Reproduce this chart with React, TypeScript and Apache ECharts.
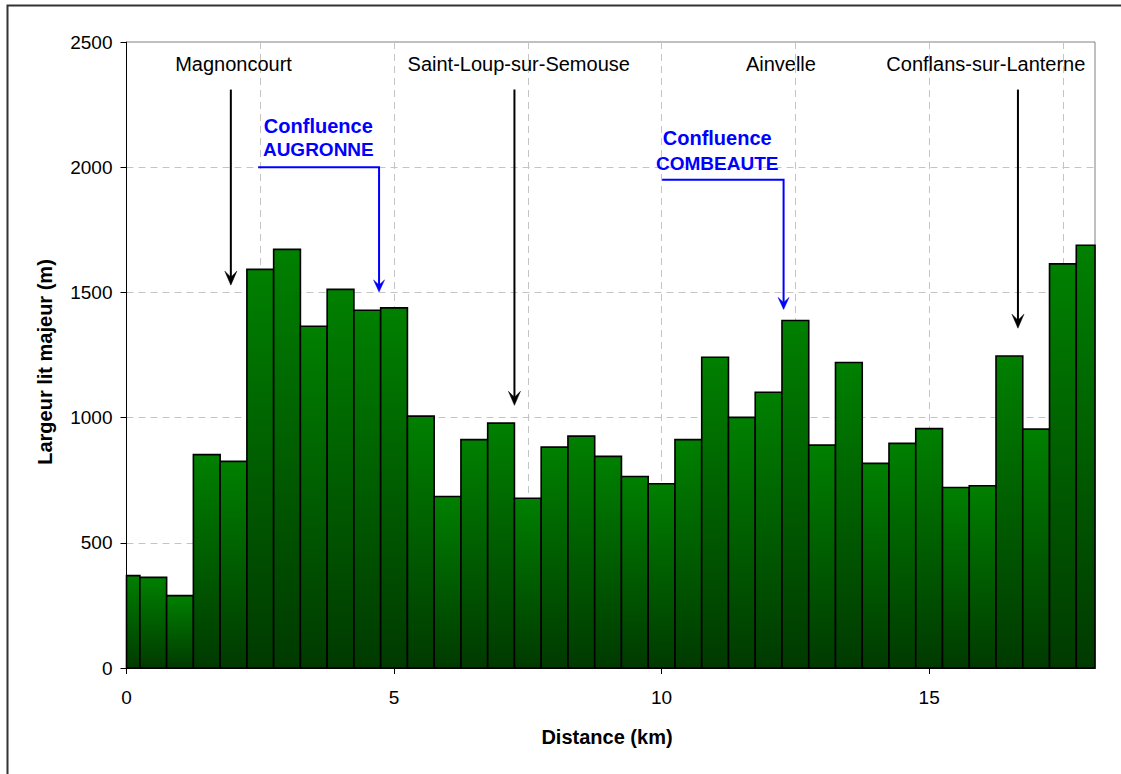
import React, { useEffect, useRef } from "react";
import * as echarts from "echarts";

// ---- data ----
const distancesKm = [
  0, 0.5, 1, 1.5, 2, 2.5, 3, 3.5, 4, 4.5, 5, 5.5, 6, 6.5, 7, 7.5, 8, 8.5, 9,
  9.5, 10, 10.5, 11, 11.5, 12, 12.5, 13, 13.5, 14, 14.5, 15, 15.5, 16, 16.5,
  17, 17.5, 18,
];
const largeurM = [
  369, 362, 289, 852, 825, 1592, 1672, 1365, 1512, 1429, 1438, 1006, 685, 912,
  978, 678, 882, 926, 845, 765, 736, 912, 1241, 1001, 1101, 1388, 890, 1220,
  817, 897, 956, 721, 728, 1246, 954, 1614, 1688,
];
const xTickValues = [0, 5, 10, 15];
const xMaxKm = 18.1;
const yMaxM = 2500;

// town annotations
const townNames = ["Magnoncourt", "Saint-Loup-sur-Semouse", "Ainvelle", "Conflans-sur-Lanterne"];
const townNameKm = [2.0, 7.33, 12.23, 16.06];
const townNameM = 2413;
const townArrowKm = [1.95, 7.25, 16.66];
const townArrowTopM = 2310;
const townArrowTipM = [1529, 1049, 1357];

// confluence annotations
const confluenceNames = ["AUGRONNE", "COMBEAUTE"];
const confluenceLabelKm = [3.585, 11.04];
const confluenceLine1M = [2165, 2117];
const confluenceLine2M = [2069, 2013];
const confluenceStartKm = [2.46, 10.01];
const confluenceArrowKm = [4.72, 12.28];
const confluenceLevelM = [2000, 1950];
const confluenceTipM = [1502, 1432];

const FONT = "'Liberation Sans', Arial, Helvetica, sans-serif";

export default function App() {
  const ref = useRef<HTMLDivElement>(null);

  useEffect(() => {
    if (!ref.current) return;
    const chart = echarts.init(ref.current, undefined, { renderer: "svg" });

    const barGradient = {
      type: "linear",
      x: 0,
      y: 0,
      x2: 0,
      y2: 1,
      colorStops: [
        { offset: 0, color: "#008000" },
        { offset: 1, color: "#003a00" },
      ],
    };

    const isTick = (v: number) =>
      xTickValues.some((t) => Math.abs(t - v) < 1e-6);

    const option: any = {
      animation: false,
      backgroundColor: "#ffffff",
      grid: {
        left: 126.5,
        top: 42,
        right: 26,
        bottom: 106,
        show: true,
        borderColor: "#808080",
        borderWidth: 1,
        backgroundColor: "transparent",
      },
      xAxis: [
        {
          type: "value",
          min: 0,
          max: xMaxKm,
          interval: 5,
          axisLine: { show: true, onZero: false, lineStyle: { color: "#000", width: 1 } },
          axisTick: {
            show: true,
            length: 6,
            customValues: xTickValues,
            lineStyle: { color: "#000" },
          },
          axisLabel: {
            customValues: xTickValues,
            formatter: (v: number) => (isTick(v) ? String(Math.round(v)) : ""),
            fontSize: 19,
            fontFamily: FONT,
            color: "#000",
            margin: 20,
          },
          splitLine: { show: false },
        },
        {
          type: "value",
          min: 0,
          max: xMaxKm,
          interval: 2.5,
          position: "bottom",
          axisLine: { show: false },
          axisTick: { show: false },
          axisLabel: { show: false },
          splitLine: {
            show: true,
            showMinLine: false,
            showMaxLine: false,
            lineStyle: { color: "#c4c4c4", type: [7, 5], width: 1 },
          },
        },
      ],
      yAxis: {
        type: "value",
        min: 0,
        max: yMaxM,
        interval: 500,
        axisLine: { show: true, lineStyle: { color: "#000", width: 1 } },
        axisTick: { show: true, length: 6, lineStyle: { color: "#000" } },
        axisLabel: {
          formatter: (v: number) => String(Math.round(v)),
          fontSize: 19,
          fontFamily: FONT,
          color: "#000",
          margin: 14,
        },
        splitLine: {
          show: true,
          showMaxLine: false,
          lineStyle: { color: "#c4c4c4", type: [7, 5], width: 1 },
        },
      },
      series: [
        {
          type: "custom",
          xAxisIndex: 0,
          yAxisIndex: 0,
          data: distancesKm.map((d, i) => [d, largeurM[i]]),
          encode: { x: 0, y: 1 },
          renderItem: (params: any, api: any) => {
            const x = api.value(0);
            const y = api.value(1);
            const p0 = api.coord([x - 0.25, y]);
            const p1 = api.coord([x + 0.25, 0]);
            const cs = params.coordSys;
            const rect = echarts.graphic.clipRectByRect(
              { x: p0[0], y: p0[1], width: p1[0] - p0[0], height: p1[1] - p0[1] },
              { x: cs.x, y: cs.y, width: cs.width, height: cs.height }
            );
            if (!rect) return null;
            return {
              type: "rect",
              shape: rect,
              style: { fill: barGradient, stroke: "#000", lineWidth: 1.6 },
            };
          },
        },
      ],
    };

    chart.setOption(option);

    const px = (x: number, y: number) =>
      chart.convertToPixel({ xAxisIndex: 0, yAxisIndex: 0 }, [x, y]) as number[];

    const graphics: any[] = [];

    // outer frame (only top & left visible in the picture)
    graphics.push({
      type: "polyline",
      silent: true,
      shape: { points: [[7.5, 774], [7.5, 5.5], [1121, 5.5]] },
      style: { fill: "none", stroke: "#333", lineWidth: 2 },
    });

    const centered = {
      align: "center",
      verticalAlign: "middle",
      textAlign: "center",
      textVerticalAlign: "middle",
    };

    // axis titles
    graphics.push({
      type: "text",
      x: 45,
      y: 362,
      rotation: Math.PI / 2,
      style: {
        text: "Largeur lit majeur (m)",
        font: `bold 20px ${FONT}`,
        fill: "#000",
        ...centered,
      },
    });
    graphics.push({
      type: "text",
      x: 607,
      y: 737,
      style: {
        text: "Distance (km)",
        font: `bold 20px ${FONT}`,
        fill: "#000",
        ...centered,
      },
    });

    const arrowHead = (tip: number[], color: string, w: number, h: number, notch: number) => ({
      type: "polygon",
      silent: true,
      shape: {
        points: [
          [tip[0], tip[1]],
          [tip[0] - w / 2, tip[1] - h],
          [tip[0], tip[1] - notch],
          [tip[0] + w / 2, tip[1] - h],
        ],
      },
      style: { fill: color, stroke: color, lineWidth: 0.5 },
    });

    // town labels
    townNames.forEach((name, i) => {
      const p = px(townNameKm[i], townNameM);
      graphics.push({
        type: "text",
        x: p[0],
        y: p[1],
        style: { text: name, font: `20px ${FONT}`, fill: "#000", ...centered },
      });
    });

    // town arrows
    townArrowKm.forEach((km, i) => {
      const top = px(km, townArrowTopM);
      const tip = px(km, townArrowTipM[i]);
      graphics.push({
        type: "line",
        silent: true,
        shape: { x1: top[0], y1: top[1], x2: tip[0], y2: tip[1] - 8 },
        style: { stroke: "#000", lineWidth: 2 },
      });
      graphics.push(arrowHead(tip, "#000", 12, 14, 8));
    });

    // confluences
    confluenceNames.forEach((name, i) => {
      const l1 = px(confluenceLabelKm[i], confluenceLine1M[i]);
      const l2 = px(confluenceLabelKm[i], confluenceLine2M[i]);
      graphics.push({
        type: "text",
        x: l1[0],
        y: l1[1],
        style: { text: "Confluence", font: `bold 20px ${FONT}`, fill: "#0000ff", ...centered },
      });
      graphics.push({
        type: "text",
        x: l2[0],
        y: l2[1],
        style: { text: name, font: `bold 19px ${FONT}`, fill: "#0000ff", ...centered },
      });
      const a = px(confluenceStartKm[i], confluenceLevelM[i]);
      const b = px(confluenceArrowKm[i], confluenceLevelM[i]);
      const tip = px(confluenceArrowKm[i], confluenceTipM[i]);
      graphics.push({
        type: "polyline",
        silent: true,
        shape: { points: [a, b, [b[0], tip[1] - 7]] },
        style: { stroke: "#0000ff", lineWidth: 2, fill: "none" },
      });
      graphics.push(arrowHead([b[0], tip[1]], "#0000ff", 11, 12, 7));
    });

    chart.setOption({ graphic: graphics });

    return () => chart.dispose();
  }, []);

  return (
    <div
      ref={ref}
      style={{ position: "absolute", left: 0, top: 0, width: 1121, height: 774 }}
    />
  );
}
